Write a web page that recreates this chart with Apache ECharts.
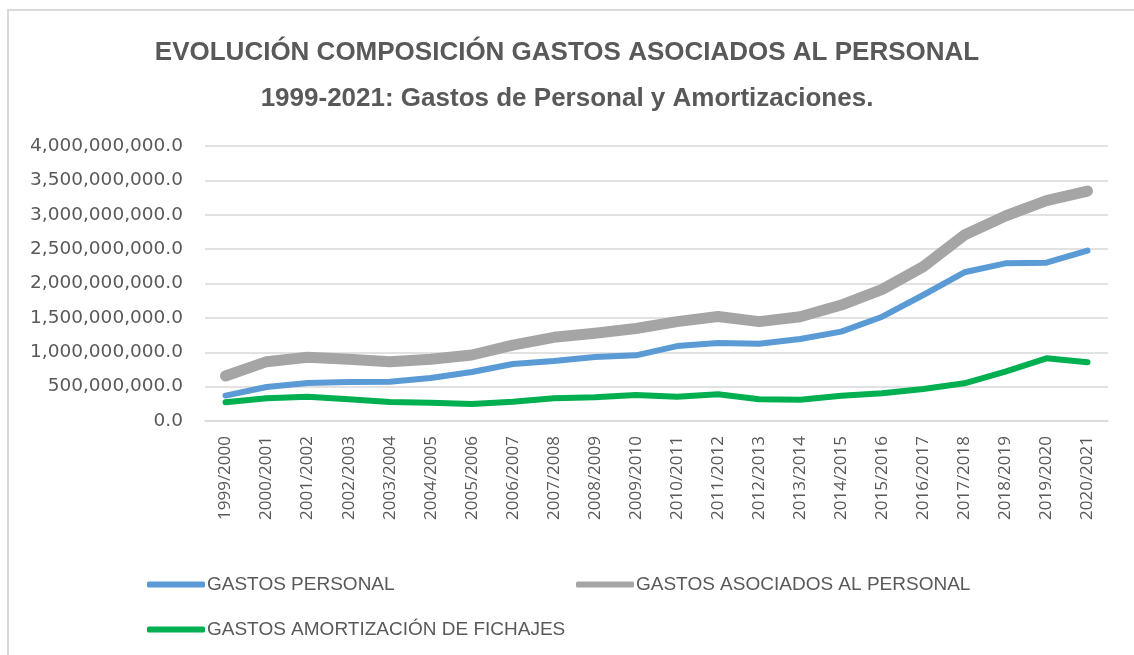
<!DOCTYPE html>
<html>
<head>
<meta charset="utf-8">
<script src="https://cdn.jsdelivr.net/npm/echarts@6/dist/echarts.min.js"></script>
<style>
  html, body { margin: 0; padding: 0; background: #fff; }
  #chart { width: 1134px; height: 655px; }
</style>
</head>
<body>
<div id="chart"></div>
<script>
// temporadas
const seasons = ['1999/2000', '2000/2001', '2001/2002', '2002/2003', '2003/2004', '2004/2005',
  '2005/2006', '2006/2007', '2007/2008', '2008/2009', '2009/2010', '2010/2011', '2011/2012',
  '2012/2013', '2013/2014', '2014/2015', '2015/2016', '2016/2017', '2017/2018', '2018/2019',
  '2019/2020', '2020/2021'];

const gastosPersonal = [370e6, 495e6, 553e6, 567e6, 570e6, 625e6, 713e6, 830e6, 873e6, 931e6,
  955e6, 1090e6, 1135e6, 1125e6, 1193e6, 1300e6, 1517e6, 1833e6, 2163e6, 2293e6, 2303e6, 2478e6];

const gastosAsociados = [655e6, 863e6, 926e6, 897e6, 863e6, 897e6, 960e6, 1105e6, 1217e6, 1275e6,
  1345e6, 1445e6, 1520e6, 1445e6, 1517e6, 1687e6, 1915e6, 2245e6, 2705e6, 2982e6, 3205e6, 3345e6];

const gastosAmortizacion = [272e6, 330e6, 354e6, 315e6, 276e6, 267e6, 247e6, 281e6, 330e6, 345e6,
  378e6, 354e6, 388e6, 315e6, 310e6, 368e6, 403e6, 465e6, 548e6, 717e6, 912e6, 854e6];

const names = ['GASTOS PERSONAL', 'GASTOS ASOCIADOS AL PERSONAL', 'GASTOS AMORTIZACIÓN DE FICHAJES'];
const colors = ['#5B9BD5', '#A5A5A5', '#00B050'];

const txt = '#595959';
const fmt = v => v.toLocaleString('en-US', { minimumFractionDigits: 1, maximumFractionDigits: 1 });

let chartDom = document.getElementById('chart');
let myChart = echarts.init(chartDom);
let option;

function legendAt(name, left, top) {
  return {
    data: [name],
    left: left,
    top: top,
    padding: 0,
    icon: 'roundRect',
    itemWidth: 58,
    itemHeight: 6,
    selectedMode: false,
    textStyle: { color: txt, fontSize: 19, fontFamily: 'Liberation Sans, Arial, sans-serif', padding: [0, 0, 0, -3] }
  };
}

option = {
  backgroundColor: '#fff',
  animation: false,
  graphic: [{
    type: 'rect',
    shape: { x: 8, y: 10, width: 1140, height: 660 },
    style: { fill: 'none', stroke: '#d9d9d9', lineWidth: 2 },
    silent: true
  }],
  title: [
    {
      text: 'EVOLUCIÓN COMPOSICIÓN GASTOS ASOCIADOS AL PERSONAL',
      left: 'center',
      top: 35,
      textStyle: { color: txt, fontSize: 26, fontWeight: 'bold', fontFamily: 'Liberation Sans, Arial, sans-serif' }
    },
    {
      text: '1999-2021: Gastos de Personal y Amortizaciones.',
      left: 'center',
      top: 81,
      textStyle: { color: txt, fontSize: 26, fontWeight: 'bold', fontFamily: 'Liberation Sans, Arial, sans-serif' }
    }
  ],
  legend: [
    legendAt(names[0], 147, 575),
    legendAt(names[1], 576, 575),
    legendAt(names[2], 147, 620)
  ],
  grid: { left: 205, right: 26, top: 146, bottom: 234 },
  xAxis: {
    type: 'category',
    data: seasons,
    boundaryGap: true,
    axisLine: { lineStyle: { color: '#d9d9d9', width: 1.5 } },
    axisTick: { show: false },
    axisLabel: { rotate: 90, color: txt, fontSize: 17, fontFamily: 'Open Sans, sans-serif', margin: 15, interval: 0 }
  },
  yAxis: {
    type: 'value',
    min: 0,
    max: 4000000000,
    interval: 500000000,
    axisLine: { show: false },
    axisTick: { show: false },
    splitLine: { lineStyle: { color: '#d9d9d9', width: 1.5 } },
    axisLabel: { color: txt, fontSize: 18.5, fontFamily: 'DejaVu Sans, sans-serif', margin: 22, formatter: fmt }
  },
  series: [
    {
      name: names[0], type: 'line', data: gastosPersonal, symbol: 'none',
      lineStyle: { color: colors[0], width: 6, cap: 'round', join: 'round' },
      itemStyle: { color: colors[0] }, z: 3
    },
    {
      name: names[1], type: 'line', data: gastosAsociados, symbol: 'none',
      lineStyle: { color: colors[1], width: 11, cap: 'round', join: 'round' },
      itemStyle: { color: colors[1] }, z: 2
    },
    {
      name: names[2], type: 'line', data: gastosAmortizacion, symbol: 'none',
      lineStyle: { color: colors[2], width: 6, cap: 'round', join: 'round' },
      itemStyle: { color: colors[2] }, z: 4
    }
  ]
};

option && myChart.setOption(option);
</script>
</body>
</html>
